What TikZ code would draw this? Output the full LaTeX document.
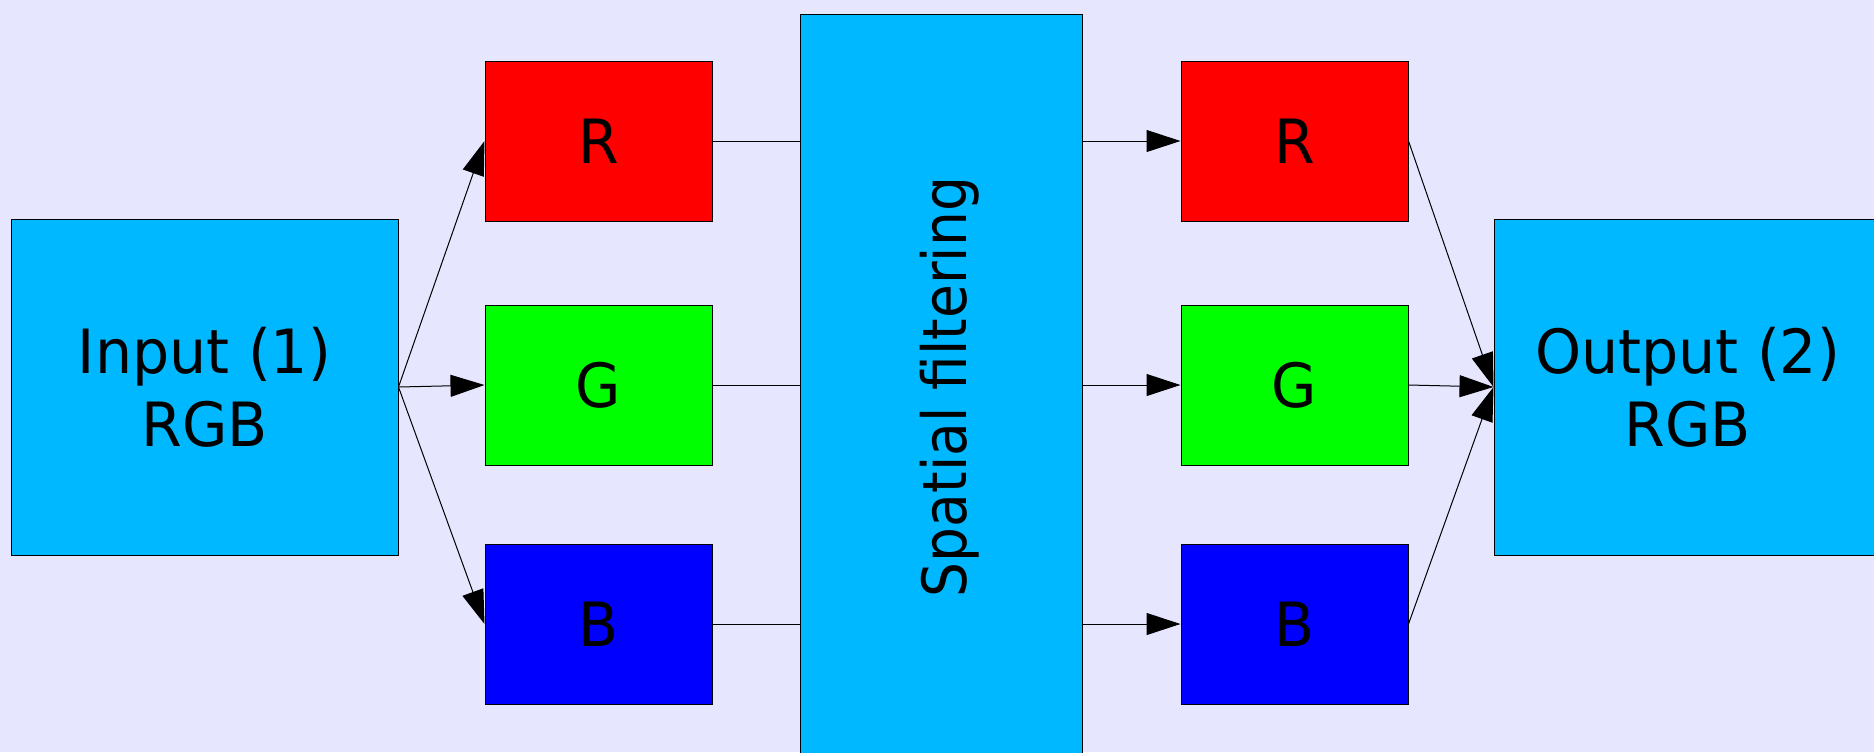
\documentclass[tikz,border=0pt]{standalone}
\usepackage{fontspec}
\usepackage{graphicx}
\setmainfont{DejaVu Sans}[FakeStretch=0.96]
\usetikzlibrary{arrows.meta}
\definecolor{bgcol}{RGB}{230,230,255}
\definecolor{cyanbox}{RGB}{0,184,255}
\definecolor{rbox}{RGB}{255,0,0}
\definecolor{gbox}{RGB}{0,255,0}
\definecolor{bbox}{RGB}{0,0,255}
\begin{document}
\begin{tikzpicture}[x=0.5pt,y=-0.5pt,
  box/.style={draw=black, line width=0.5pt, rectangle, inner sep=0pt,
    font=\fontsize{30.5}{36.5}\selectfont, align=center},
  bigbox/.style={box, fill=cyanbox, minimum width=193.5pt, minimum height=168pt},
  chan/.style={box, minimum width=113.5pt, minimum height=80pt},
  conn/.style={line width=0.5pt, draw=black},
  arr/.style={conn, -{Triangle[length=17pt,width=11pt]}}]
\clip (0,0) rectangle (1874,752);
\fill[bgcol] (0,0) rectangle (1874,752);
% boxes
\node[bigbox] (inp) at (204.5,387) {Input (1)\\RGB};
\node[chan, fill=rbox] (r1) at (598.5,141) {R};
\node[chan, fill=gbox] (g1) at (598.5,385) {G};
\node[chan, fill=bbox] (b1) at (598.5,624) {B};
\node[box, fill=cyanbox, minimum width=141pt, minimum height=373pt] (sf) at (941,387)
  {\hspace*{9pt}\rotatebox{90}{\scalebox{0.94}[1]{Spatial filtering}}};
\node[chan, fill=rbox] (r2) at (1294.5,141) {R};
\node[chan, fill=gbox] (g2) at (1294.5,385) {G};
\node[chan, fill=bbox] (b2) at (1294.5,624) {B};
\node[bigbox] (out) at (1687.5,387) {Output (2)\\RGB};
% connectors
\draw[arr] (inp.east) -- (r1.west);
\draw[arr] (inp.east) -- (g1.west);
\draw[arr] (inp.east) -- (b1.west);
\draw[conn] (r1.east) -- (r1.east -| sf.west);
\draw[conn] (g1.east) -- (g1.east -| sf.west);
\draw[conn] (b1.east) -- (b1.east -| sf.west);
\draw[arr] (sf.east |- r2.west) -- (r2.west);
\draw[arr] (sf.east |- g2.west) -- (g2.west);
\draw[arr] (sf.east |- b2.west) -- (b2.west);
\draw[arr] (r2.east) -- (out.west);
\draw[arr] (g2.east) -- (out.west);
\draw[arr] (b2.east) -- (out.west);
\end{tikzpicture}
\end{document}
